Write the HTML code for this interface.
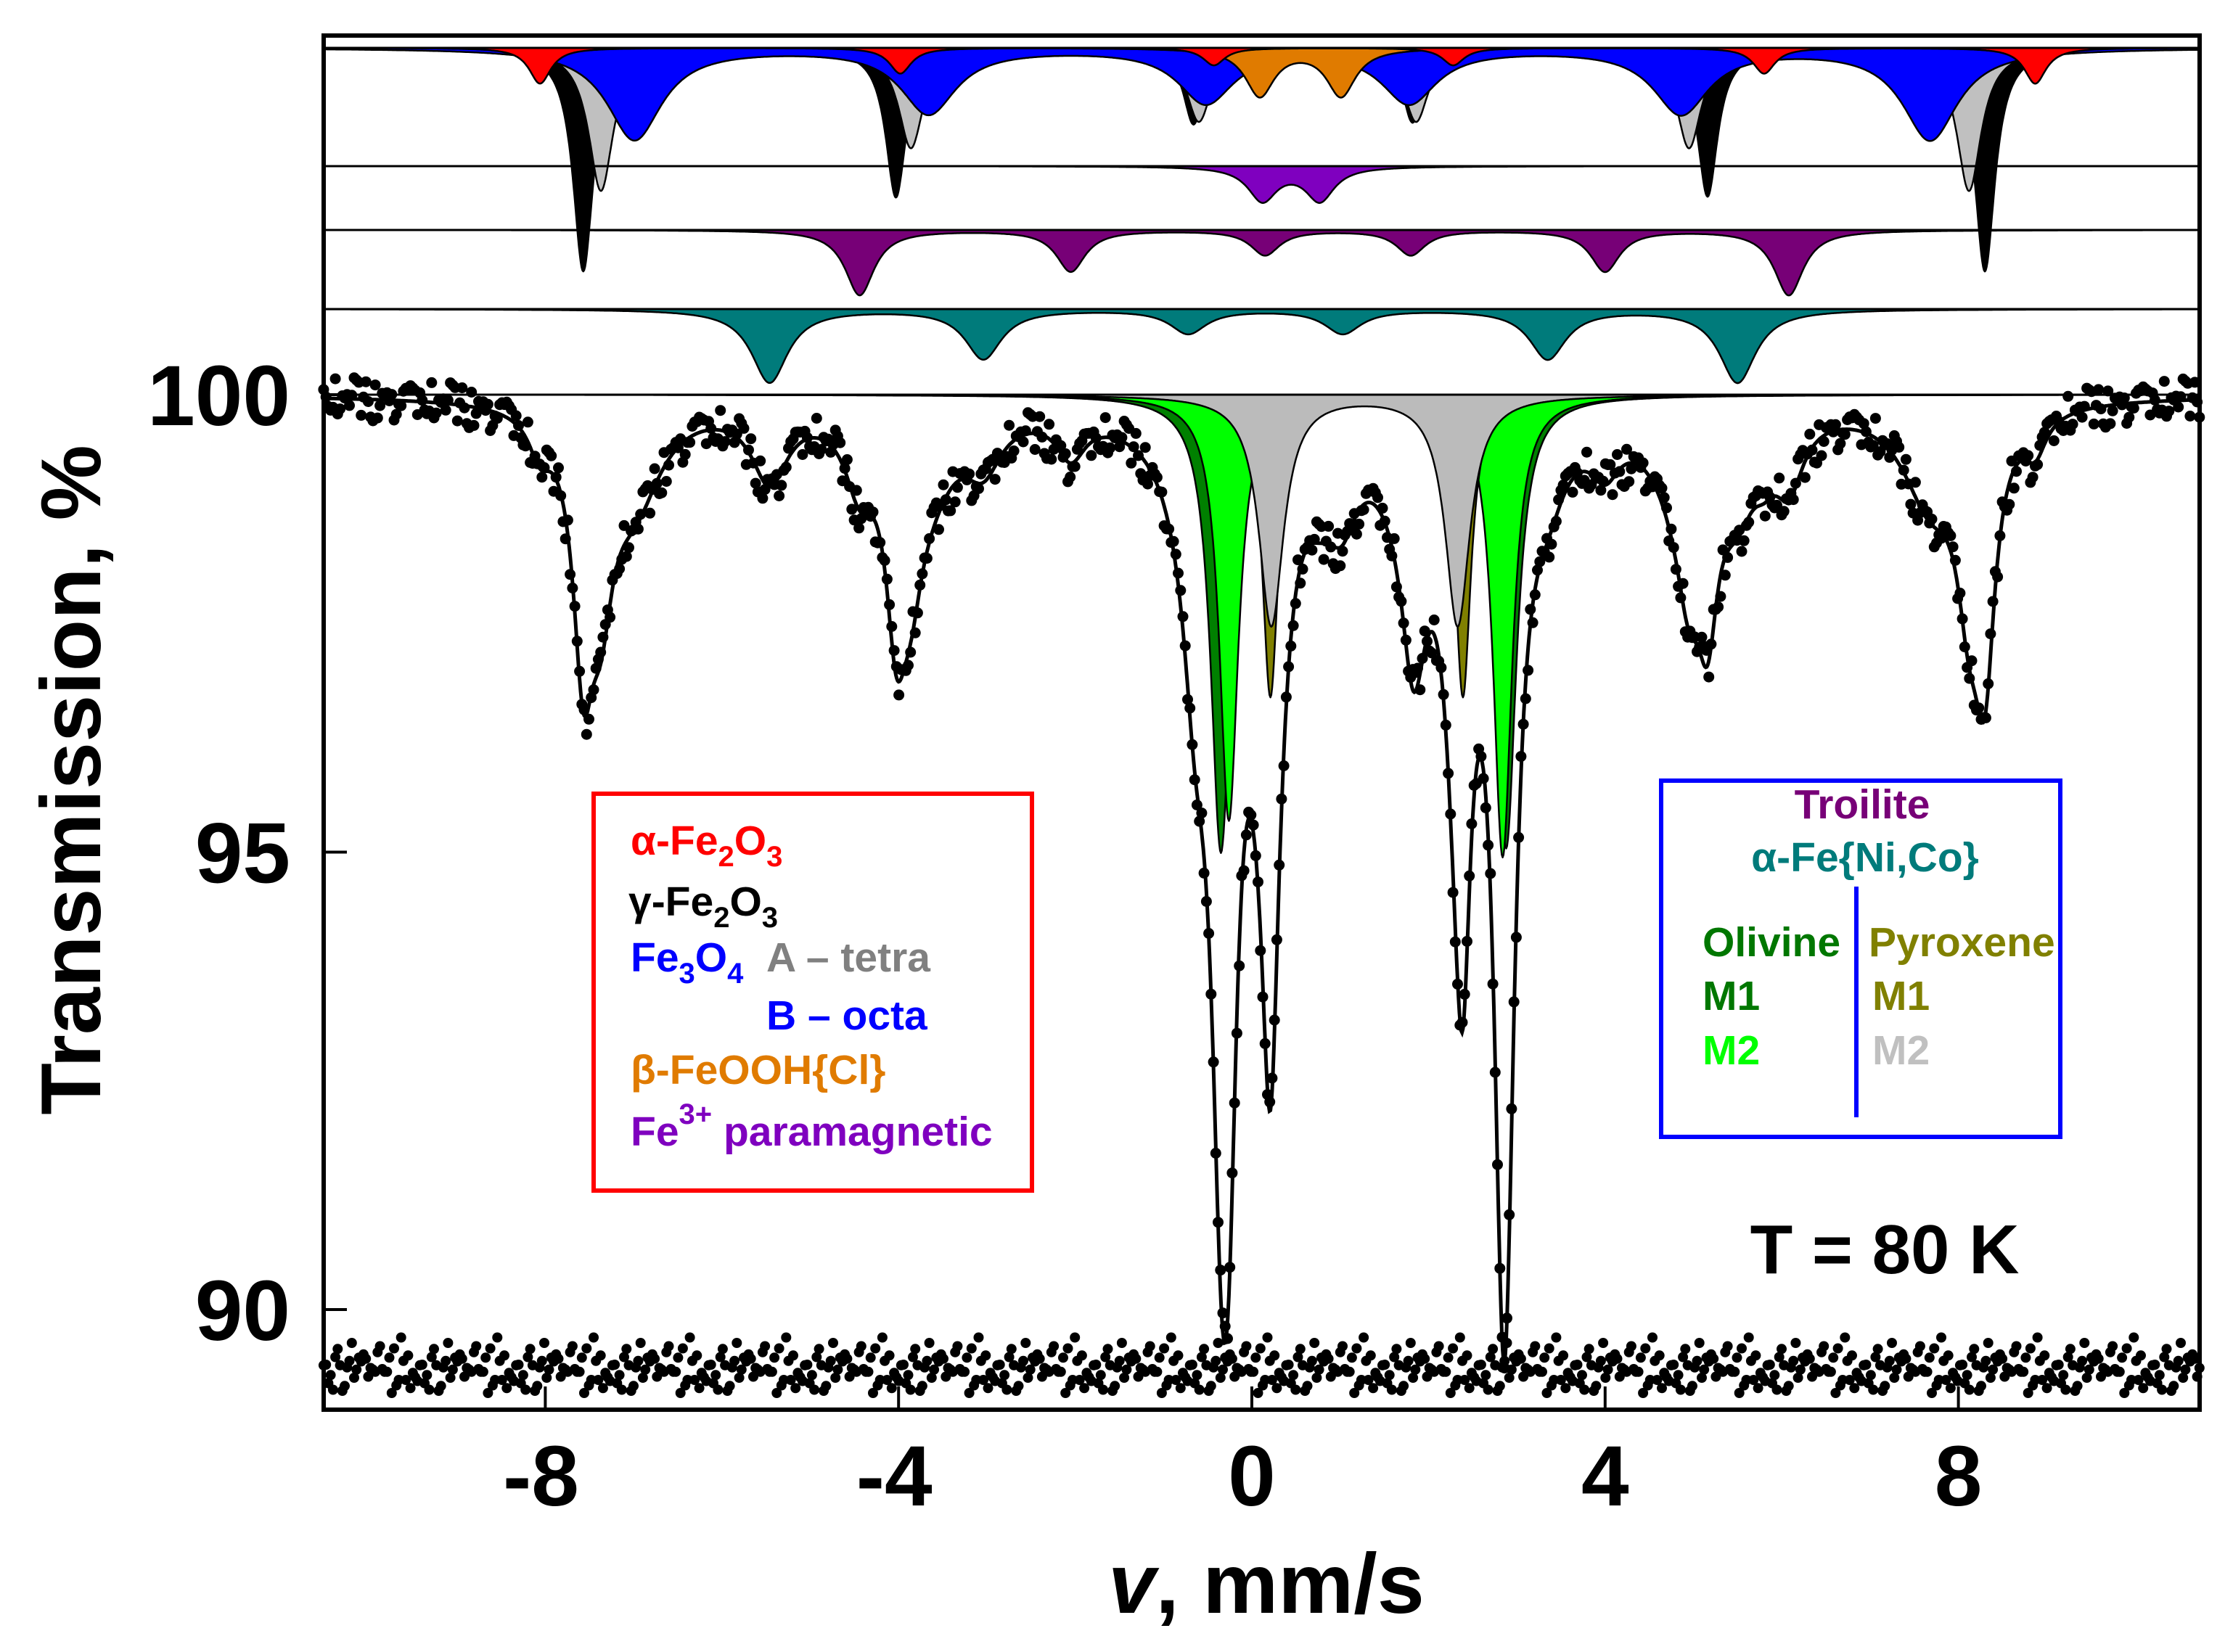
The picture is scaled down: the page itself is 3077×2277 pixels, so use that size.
<!DOCTYPE html>
<html><head><meta charset="utf-8"><style>
html,body{margin:0;padding:0;background:#fff;}
svg{display:block;font-family:"Liberation Sans",Arial,sans-serif;font-weight:bold;}
</style></head><body>
<svg id="chart" width="3077" height="2277" viewBox="0 0 3077 2277" xmlns="http://www.w3.org/2000/svg">
<rect x="0" y="0" width="3077" height="2277" fill="#fff"/>
<g id="subspectra"></g>
<g id="baselines"></g>
<g id="data"></g>
<g id="axes"></g>

<g>
<rect x="818" y="1094" width="604" height="547" fill="none" stroke="#ff0000" stroke-width="6"/>
<text x="869" y="1178" font-size="57" fill="#ff0000">α-Fe<tspan font-size="40" dy="16">2</tspan><tspan dy="-16">O</tspan><tspan font-size="40" dy="16">3</tspan></text>
<text x="866" y="1262" font-size="57" fill="#000">γ-Fe<tspan font-size="40" dy="16">2</tspan><tspan dy="-16">O</tspan><tspan font-size="40" dy="16">3</tspan></text>
<text x="869" y="1339" font-size="57" fill="#0000ff">Fe<tspan font-size="40" dy="16">3</tspan><tspan dy="-16">O</tspan><tspan font-size="40" dy="16">4</tspan></text>
<text x="1056" y="1339" font-size="57" fill="#808080">A – tetra</text>
<text x="1056" y="1419" font-size="57" fill="#0000ff">B – octa</text>
<text x="869" y="1494" font-size="57" fill="#e07b00">β-FeOOH{Cl}</text>
<text x="869" y="1579" font-size="57" fill="#7f00bf">Fe<tspan font-size="40" dy="-30">3+</tspan><tspan dy="30"> paramagnetic</tspan></text>
</g>

<g>
<rect x="2289" y="1076" width="550" height="491" fill="none" stroke="#0000ff" stroke-width="6"/>
<text x="2566" y="1128" font-size="57" fill="#770077" text-anchor="middle">Troilite</text>
<text x="2570" y="1201" font-size="57" fill="#007b7b" text-anchor="middle">α-Fe{Ni,Co}</text>
<line x1="2558" y1="1222" x2="2558" y2="1540" stroke="#0000ff" stroke-width="6"/>
<text x="2346" y="1318" font-size="57" fill="#007700">Olivine</text>
<text x="2346" y="1392" font-size="57" fill="#007700">M1</text>
<text x="2346" y="1467" font-size="57" fill="#00ff00">M2</text>
<text x="2575" y="1318" font-size="57" fill="#808000">Pyroxene</text>
<text x="2580" y="1392" font-size="57" fill="#808000">M1</text>
<text x="2580" y="1467" font-size="57" fill="#c0c0c0">M2</text>
</g>

<text x="2597" y="1755" font-size="96" fill="#000" text-anchor="middle">T = 80 K</text>
<text x="0" y="0" font-size="117" fill="#000" text-anchor="middle" transform="translate(138,1075) rotate(-90)">Transmission, %</text>
<text x="1745" y="2223" font-size="117" fill="#000" text-anchor="middle"><tspan font-style="italic">v</tspan>, mm/s</text>

<script>
// ---- data ----
const xTicks = [-8, -4, 0, 4, 8];
const xTickLabels = ["-8", "-4", "0", "4", "8"];
const yTicks = [90, 95, 100];
const yTickLabels = ["90", "95", "100"];
const hemPos = [-8.06, -3.98, -0.43, 2.28, 5.8, 8.87];
const hemDepth = [0.39, 0.28, 0.19, 0.19, 0.28, 0.39];
const maghPos = [-7.57, -4.03, -0.66, 1.82, 5.16, 8.3];
const maghDepth = [2.44, 1.63, 0.83, 0.81, 1.62, 2.44];
const tetraPos = [-7.37, -3.86, -0.6, 1.86, 4.95, 8.12];
const tetraDepth = [1.56, 1.09, 0.8, 0.8, 1.09, 1.56];
const octaPos = [-6.99, -3.66, -0.52, 1.78, 4.86, 7.68];
const octaDepth = [1.0, 0.71, 0.59, 0.59, 0.71, 1.0];
const akagPos = [0.09, 1.01];
const akagDepth = [0.52, 0.52];
const paraPos = [0.12, 0.77];
const paraDepth = [0.37, 0.37];
const troPos = [-4.44, -2.05, 0.15, 1.8, 4.0, 6.08];
const troDepth = [0.71, 0.45, 0.27, 0.27, 0.45, 0.71];
const kamPos = [-5.46, -3.04, -0.72, 1.03, 3.35, 5.5];
const kamDepth = [0.8, 0.54, 0.26, 0.26, 0.54, 0.8];
const olM1Pos = [-0.35, 2.88];
const olM1Depth = [5.0, 4.95];
const olM2Pos = [-0.26, 2.84];
const olM2Depth = [4.65, 5.05];
const pxM1Pos = [0.21, 2.39];
const pxM1Depth = [3.3, 3.3];
const pxM2Pos = [0.22, 2.33];
const pxM2Depth = [2.52, 2.52];
const residualNoise = [0.12,-0.21,0.05,0.24,-0.08,-0.27,0.16,0.02,-0.14,0.29,-0.03,0.09,-0.19,0.21,-0.11,0.04,0.26,-0.24,0.07,-0.05,0.18,-0.16,0.01,0.23,-0.29,0.1,-0.07,0.15,-0.12,0.06,-0.22,0.2,-0.01,0.13,-0.18,0.27,-0.09,0.03,-0.25,0.08,0.17];

// ---- scales ----
const X0 = 446, X1 = 3031, Y0 = 49, Y1 = 1943;
const vx = v => 1725 + v * 121.7;
const PXPCT = 126.1;
const ty = t => 544 + (100 - t) * PXPCT;
const VMIN = -10.51, VMAX = 10.73;
const NS = "http://www.w3.org/2000/svg";
function mk(tag, attrs, parent) {
  const e = document.createElementNS(NS, tag);
  for (const k in attrs) e.setAttribute(k, attrs[k]);
  parent.appendChild(e);
  return e;
}
const lor = (v, p, d, w) => { let s = 0; for (let i = 0; i < p.length; i++) { const z = (v - p[i]) / w; s += d[i] / (1 + z * z); } return s; };

const comps = [
  {name:'maghemite', pos:maghPos, dep:maghDepth, w:0.14, base:66, fill:'#000000'},
  {name:'magnetite-a-tetra', pos:tetraPos, dep:tetraDepth, w:0.17, base:66, fill:'#c0c0c0'},
  {name:'magnetite-b-octa', pos:octaPos, dep:octaDepth, w:0.38, base:66, fill:'#0000ff'},
  {name:'akaganeite', pos:akagPos, dep:akagDepth, w:0.2, base:66, fill:'#e07b00'},
  {name:'hematite', pos:hemPos, dep:hemDepth, w:0.15, base:66, fill:'#ff0000'},
  {name:'fe3-paramagnetic', pos:paraPos, dep:paraDepth, w:0.2, base:229, fill:'#7f00bf'},
  {name:'troilite', pos:troPos, dep:troDepth, w:0.2, base:317, fill:'#770077'},
  {name:'fe-ni-co', pos:kamPos, dep:kamDepth, w:0.25, base:426, fill:'#007b7b'},
  {name:'olivine-m1', pos:olM1Pos, dep:olM1Depth, w:0.14, base:544, fill:'#008000'},
  {name:'olivine-m2', pos:olM2Pos, dep:olM2Depth, w:0.13, base:544, fill:'#00ff00'},
  {name:'pyroxene-m1', pos:pxM1Pos, dep:pxM1Depth, w:0.11, base:544, fill:'#808000'},
  {name:'pyroxene-m2', pos:pxM2Pos, dep:pxM2Depth, w:0.17, base:544, fill:'#bbbbbb'}
];

const gSub = document.getElementById('subspectra');
for (const c of comps) {
  let d = 'M' + vx(VMIN).toFixed(1) + ',' + c.base;
  for (let v = VMIN; v <= VMAX + 1e-9; v += 0.01) {
    d += 'L' + vx(v).toFixed(1) + ',' + (c.base + lor(v, c.pos, c.dep, c.w) * PXPCT).toFixed(1);
  }
  d += 'L' + vx(VMAX).toFixed(1) + ',' + c.base + 'Z';
  const p = mk('path', {d: d, fill: c.fill, stroke: '#000', 'stroke-width': 2.5, 'stroke-linejoin': 'round'}, gSub);
  
  
}

const gB = document.getElementById('baselines');
for (const b of [66, 229, 317, 426, 544]) {
  const l = mk('line', {x1: X0, x2: X1, y1: b, y2: b, stroke: '#000', 'stroke-width': 3}, gB);
  
  
}

const total = v => { let s = 0; for (const c of comps) s += lor(v, c.pos, c.dep, c.w); return 100 - s; };

const gD = document.getElementById('data');
let fd = '';
for (let v = VMIN; v <= VMAX + 1e-9; v += 0.01) fd += (fd ? 'L' : 'M') + vx(v).toFixed(1) + ',' + ty(total(v)).toFixed(1);
const fit = mk('path', {d: fd, fill: 'none', stroke: '#000', 'stroke-width': 5}, gD);



const N = 800;
const nn = residualNoise.length;
for (let i = 0; i < N; i++) {
  const v = VMIN + (VMAX - VMIN) * i / (N - 1);
  const n1 = residualNoise[(i * 7) % nn];
  const n2 = residualNoise[(i * 11 + 3) % nn];
  const n3 = residualNoise[(i * 13 + 5) % nn];
  const pt = mk('circle', {cx: vx(v).toFixed(1), cy: ty(total(v) + n1 * 0.8).toFixed(1), r: 7.5, fill: '#000'}, gD);
  
  
  const rp = mk('circle', {cx: vx(v).toFixed(1), cy: (1884 + (n2 + n3) * 75).toFixed(1), r: 7, fill: '#000'}, gD);
  
  
}

const gA = document.getElementById('axes');
const frame = mk('rect', {x: X0, y: Y0, width: X1 - X0, height: Y1 - Y0, fill: 'none', stroke: '#000', 'stroke-width': 6}, gA);


xTicks.forEach((t, i) => {
  const l = mk('line', {x1: vx(t), x2: vx(t), y1: Y1, y2: Y1 - 32, stroke: '#000', 'stroke-width': 4}, gA);
  
  
  const tx = mk('text', {x: vx(t) - (t < 0 ? 6 : 0), y: 2075, 'font-size': 118, 'text-anchor': 'middle', fill: '#000'}, gA);
  tx.textContent = xTickLabels[i];
  
  
});
yTicks.forEach((t, i) => {
  const l = mk('line', {x1: X0, x2: X0 + 32, y1: ty(t), y2: ty(t), stroke: '#000', 'stroke-width': 4}, gA);
  
  
  const tx = mk('text', {x: 400, y: ty(t) + 42, 'font-size': 118, 'text-anchor': 'end', fill: '#000'}, gA);
  tx.textContent = yTickLabels[i];
  
  
});
</script>
</svg>
</body></html>
